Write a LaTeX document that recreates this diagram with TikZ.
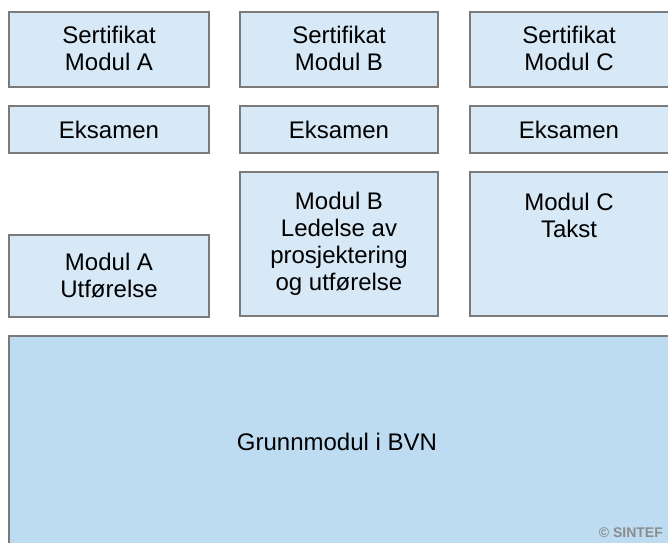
\documentclass[tikz,border=0pt]{standalone}
\usepackage{fontspec}
\setmainfont{Liberation Sans}
\definecolor{boxfill}{HTML}{D7E8F6}
\definecolor{basefill}{HTML}{BDDCF2}
\definecolor{boxline}{HTML}{7A7A7A}
\definecolor{marktext}{HTML}{8C8C8C}
\begin{document}
\begin{tikzpicture}[x=1pt,y=-1pt,
  modbox/.style={draw=boxline, line width=1.6pt, fill=boxfill, anchor=north west,
    inner sep=0pt, outer sep=0pt, align=center, font=\fontsize{24}{27}\selectfont},
  basebox/.style={modbox, fill=basefill},
  boxtext/.style={align=center, font=\fontsize{24}{27}\selectfont, inner sep=0pt}]
\useasboundingbox (0,0) rectangle (668,542);
\clip (0,0) rectangle (668,542);
\fill[white] (0,0) rectangle (668,542);
% certificates
\node[modbox, minimum width=200pt, minimum height=75pt] (certA) at (9,12) {};
\node[boxtext] (certAtext) at (109,48) {Sertifikat\\Modul A};
\node[modbox, minimum width=198pt, minimum height=75pt] (certB) at (240,12) {};
\node[boxtext] (certBtext) at (339,48) {Sertifikat\\Modul B};
\node[modbox, minimum width=210pt, minimum height=75pt] (certC) at (470,12) {};
\node[boxtext] (certCtext) at (569,48) {Sertifikat\\Modul C};
% exams
\node[modbox, minimum width=200pt, minimum height=47pt] (examA) at (9,106) {Eksamen};
\node[modbox, minimum width=198pt, minimum height=47pt] (examB) at (240,106) {Eksamen};
\node[modbox, minimum width=210pt, minimum height=47pt] (examC) at (470,106) {};
\node[boxtext] (examCtext) at (569,129.5) {Eksamen};
% modules
\node[modbox, minimum width=200pt, minimum height=82pt] (modA) at (9,235) {Modul A\\Utførelse};
\node[modbox, minimum width=198pt, minimum height=144pt] (modB) at (240,172) {Modul B\\Ledelse av\\prosjektering\\og utførelse};
\node[modbox, minimum width=210pt, minimum height=144pt] (modC) at (470,172) {};
\node[boxtext] (modCtext) at (569,215) {Modul C\\Takst};
% base module
\node[basebox, minimum width=680pt, minimum height=220pt] (base) at (9,336) {};
\node[boxtext] (basetext) at (337,442) {Grunnmodul i BVN};
\node[font=\fontsize{14}{16}\selectfont\bfseries, text=marktext, anchor=east, inner sep=0pt] (mark) at (663,533) {© SINTEF};
\end{tikzpicture}
\end{document}
